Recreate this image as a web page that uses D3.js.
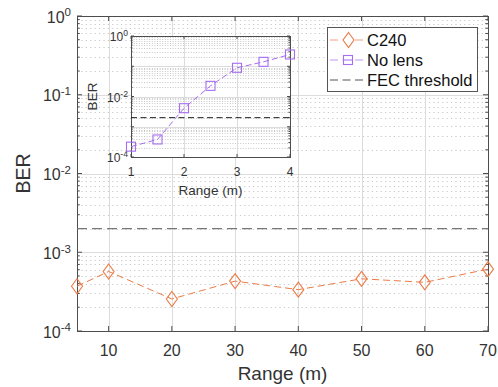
<!DOCTYPE html>
<html>
<head>
<meta charset="utf-8">
<script src="https://cdn.jsdelivr.net/npm/d3@7"></script>
<style>
  body { margin: 0; background: #fff; }
  svg { font-family: "Liberation Sans", Arial, sans-serif; }
</style>
</head>
<body>
<svg id="chart" width="498" height="387"></svg>
<script>
// main plot data
var rangeMain = [5, 10, 20, 30, 40, 50, 60, 70]
var berC240 = [3.7e-4, 5.7e-4, 2.55e-4, 4.3e-4, 3.35e-4, 4.6e-4, 4.15e-4, 6.1e-4]
var xTicksMain = [10, 20, 30, 40, 50, 60, 70]

// inset data
var rangeInset = [1, 1.5, 2, 2.5, 3, 3.5, 4]
var berNoLens = [2.2e-4, 3.8e-4, 4.1e-3, 2.25e-2, 8.9e-2, 1.4e-1, 2.45e-1]
var xTicksInset = [1, 2, 3, 4]

var yTicks = [1e-4, 1e-3, 1e-2, 1e-1, 1]
var yTicksInset = [1e-4, 1e-2, 1]
var fecThreshold = 2e-3

var orange = '#EC7A45'
var purple = '#A66CF2'
var axisColor = '#4d4d4d'
var gridColor = '#dcdcdc'

var svg = d3.select('#chart')

function minorTicks(lo, hi) {
  var out = []
  for (var e = lo; e < hi; e++) {
    for (var m = 2; m <= 9; m++) out.push(m * Math.pow(10, e))
  }
  return out
}

function powLabel(sel, v) {
  var e = Math.round(Math.log10(v))
  sel.text(null)
  sel.append('tspan').text('10')
  sel.append('tspan').attr('dy', '-0.55em').attr('font-size', '0.72em').text(e)
}

function drawAxes(g, x, y, opts) {
  var w = x.range()[1] - x.range()[0]
  var h = y.range()[0] - y.range()[1]
  var minors = minorTicks(-4, 0)

  g.append('rect').attr('width', w).attr('height', h).attr('fill', '#fff')

  // minor horizontal grid (dotted)
  g.append('g').selectAll('line').data(minors).join('line')
    .attr('x1', 0).attr('x2', w)
    .attr('y1', function(d) { return Math.round(y(d)) + 0.5 })
    .attr('y2', function(d) { return Math.round(y(d)) + 0.5 })
    .attr('stroke', '#c8c8c8').attr('stroke-width', 1)
    .attr('stroke-dasharray', opts.minorDash)

  // major grid
  g.append('g').selectAll('line').data(opts.yMajor).join('line')
    .attr('x1', 0).attr('x2', w)
    .attr('y1', function(d) { return Math.round(y(d)) + 0.5 })
    .attr('y2', function(d) { return Math.round(y(d)) + 0.5 })
    .attr('stroke', gridColor)
  g.append('g').selectAll('line').data(opts.xTicks).join('line')
    .attr('y1', 0).attr('y2', h)
    .attr('x1', function(d) { return Math.round(x(d)) + 0.5 })
    .attr('x2', function(d) { return Math.round(x(d)) + 0.5 })
    .attr('stroke', gridColor)

  // box
  g.append('rect').attr('x', 0.5).attr('y', 0.5).attr('width', w).attr('height', h)
    .attr('fill', 'none').attr('stroke', axisColor).attr('stroke-width', 1)

  // y ticks left + right
  var tl = opts.tick
  var tm = opts.tick * 0.55
  ;[0, w].forEach(function(px, side) {
    var dir = side === 0 ? 1 : -1
    g.append('g').selectAll('line').data(opts.yMajor).join('line')
      .attr('x1', px).attr('x2', px + dir * tl)
      .attr('y1', function(d) { return y(d) }).attr('y2', function(d) { return y(d) })
      .attr('stroke', axisColor)
    g.append('g').selectAll('line').data(minors).join('line')
      .attr('x1', px).attr('x2', px + dir * tm)
      .attr('y1', function(d) { return y(d) }).attr('y2', function(d) { return y(d) })
      .attr('stroke', axisColor)
  })
  ;[0, h].forEach(function(py, side) {
    var dir = side === 0 ? 1 : -1
    g.append('g').selectAll('line').data(opts.xTicks).join('line')
      .attr('y1', py).attr('y2', py + dir * tl)
      .attr('x1', function(d) { return x(d) }).attr('x2', function(d) { return x(d) })
      .attr('stroke', axisColor)
  })

  // tick labels
  g.append('g').selectAll('text').data(opts.yLabels).join('text')
    .attr('x', -opts.labelPad).attr('y', function(d) { return y(d) + opts.fs * 0.42 })
    .attr('text-anchor', 'end').attr('font-size', opts.fs).attr('fill', '#333')
    .each(function(d) { powLabel(d3.select(this), d) })
  g.append('g').selectAll('text').data(opts.xTicks).join('text')
    .attr('x', function(d) { return x(d) }).attr('y', h + opts.xLabelDy)
    .attr('text-anchor', 'middle').attr('font-size', opts.fs).attr('fill', '#333')
    .text(function(d) { return d })
}

// ---- main axes
var M = { left: 77, top: 16, right: 488, bottom: 331 }
var x = d3.scaleLinear().domain([5, 70]).range([0, M.right - M.left])
var y = d3.scaleLog().domain([1e-4, 1]).range([M.bottom - M.top, 0])
var main = svg.append('g').attr('transform', 'translate(' + M.left + ',' + M.top + ')')

drawAxes(main, x, y, {
  xTicks: xTicksMain, yMajor: yTicks, yLabels: yTicks,
  minorDash: '1.2,3.2', tick: 5, fs: 16, labelPad: 6, xLabelDy: 25
})

main.append('line')
  .attr('x1', 0).attr('x2', x.range()[1])
  .attr('y1', y(fecThreshold)).attr('y2', y(fecThreshold))
  .attr('stroke', '#777').attr('stroke-width', 1.3).attr('stroke-dasharray', '10,5')

var line = d3.line().x(function(d) { return x(d[0]) }).y(function(d) { return y(d[1]) })
var c240 = d3.zip(rangeMain, berC240)
main.append('path').datum(c240).attr('d', line)
  .attr('fill', 'none').attr('stroke', orange).attr('stroke-width', 1).attr('stroke-dasharray', '7,4')

function diamond(g, cx, cy, col) {
  g.append('path')
    .attr('d', 'M' + cx + ',' + (cy - 7.5) + 'L' + (cx + 5.5) + ',' + cy + 'L' + cx + ',' + (cy + 7.5) + 'L' + (cx - 5.5) + ',' + cy + 'Z')
    .attr('fill', 'none').attr('stroke', col).attr('stroke-width', 1.1)
}
c240.forEach(function(d) { diamond(main, x(d[0]), y(d[1]), orange) })

svg.append('text').attr('x', (M.left + M.right) / 2).attr('y', 380)
  .attr('text-anchor', 'middle').attr('font-size', 19).attr('fill', '#333').text('Range (m)')
svg.append('text').attr('transform', 'translate(30,' + (M.top + M.bottom) / 2 + ') rotate(-90)')
  .attr('text-anchor', 'middle').attr('font-size', 19.5).attr('fill', '#333').text('BER')

// ---- inset axes
var I = { left: 131, top: 36, right: 290, bottom: 157 }
var xi = d3.scaleLinear().domain([1, 4]).range([0, I.right - I.left])
var yi = d3.scaleLog().domain([1e-4, 1]).range([I.bottom - I.top, 0])
var inset = svg.append('g').attr('transform', 'translate(' + I.left + ',' + I.top + ')')

drawAxes(inset, xi, yi, {
  xTicks: xTicksInset, yMajor: yTicks, yLabels: yTicksInset,
  minorDash: '1,1.6', tick: 3, fs: 12, labelPad: 3, xLabelDy: 19
})

inset.append('line')
  .attr('x1', 0).attr('x2', xi.range()[1])
  .attr('y1', yi(fecThreshold)).attr('y2', yi(fecThreshold))
  .attr('stroke', '#222').attr('stroke-width', 1).attr('stroke-dasharray', '6,3.5')

var lineI = d3.line().x(function(d) { return xi(d[0]) }).y(function(d) { return yi(d[1]) })
var noLens = d3.zip(rangeInset, berNoLens)
inset.append('path').datum(noLens).attr('d', lineI)
  .attr('fill', 'none').attr('stroke', purple).attr('stroke-width', 1).attr('stroke-dasharray', '6,3')
inset.selectAll('rect.mk').data(noLens).join('rect').attr('class', 'mk')
  .attr('x', function(d) { return xi(d[0]) - 4.5 }).attr('y', function(d) { return yi(d[1]) - 4.5 })
  .attr('width', 9).attr('height', 9)
  .attr('fill', 'none').attr('stroke', purple).attr('stroke-width', 1.1)

svg.append('text').attr('x', (I.left + I.right) / 2).attr('y', 195)
  .attr('text-anchor', 'middle').attr('font-size', 13.5).attr('fill', '#333').text('Range (m)')
svg.append('text').attr('transform', 'translate(97,' + (I.top + I.bottom) / 2 + ') rotate(-90)')
  .attr('text-anchor', 'middle').attr('font-size', 13.5).attr('fill', '#333').text('BER')

// ---- legend
var legend = svg.append('g').attr('transform', 'translate(327,27)')
legend.append('rect').attr('x', 0.5).attr('y', 0.5).attr('width', 150).attr('height', 64)
  .attr('fill', '#fff').attr('stroke', '#555')
var items = [
  { name: 'C240', color: orange, mark: 'diamond' },
  { name: 'No lens', color: purple, mark: 'square' },
  { name: 'FEC threshold', color: '#555', mark: null }
]
items.forEach(function(it, i) {
  var cy = 13 + i * 20
  legend.append('line').attr('x1', 3).attr('x2', 38).attr('y1', cy).attr('y2', cy)
    .attr('stroke', it.color).attr('stroke-width', 1).attr('stroke-dasharray', '8,4.5')
    .attr('opacity', it.mark ? 0.7 : 1)
  if (it.mark === 'diamond') {
    legend.append('rect').attr('x', 15).attr('y', cy - 8).attr('width', 12).attr('height', 16).attr('fill', '#fff')
    diamond(legend, 21.5, cy, it.color)
  }
  if (it.mark === 'square') {
    legend.append('rect').attr('x', 16.5).attr('y', cy - 4.5).attr('width', 9).attr('height', 9)
      .attr('fill', '#fff').attr('stroke', it.color).attr('stroke-width', 1.1)
    legend.append('line').attr('x1', 16.5).attr('x2', 25.5).attr('y1', cy).attr('y2', cy).attr('stroke', it.color)
  }
  legend.append('text').attr('x', 40).attr('y', cy + 6).attr('font-size', 16.5).attr('fill', '#111').text(it.name)
})
</script>
</body>
</html>
